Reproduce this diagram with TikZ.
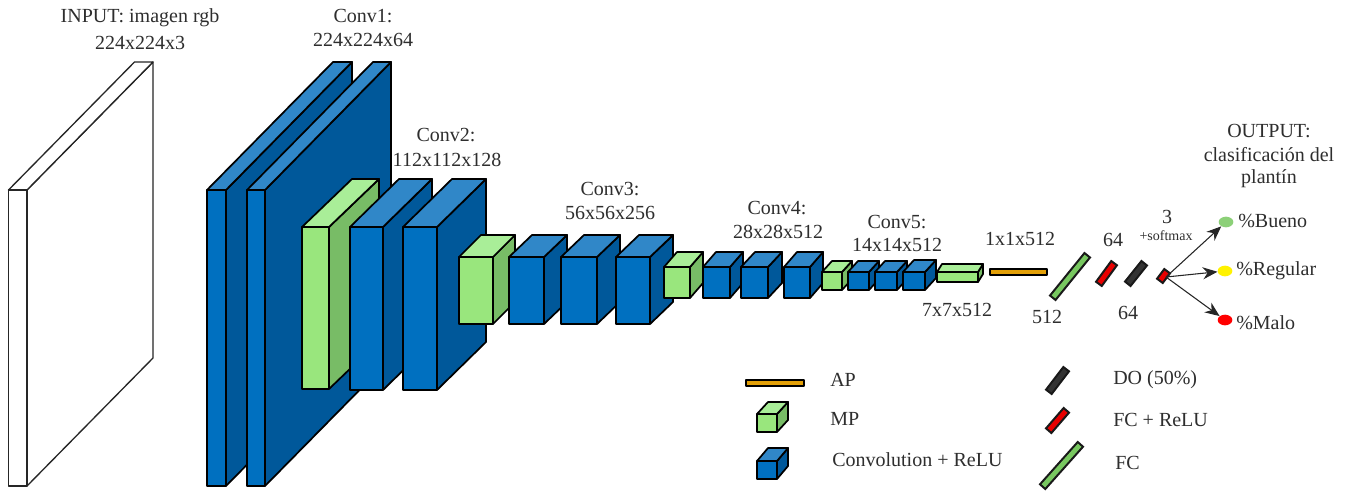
\documentclass[tikz,border=0pt]{standalone}
\usepackage{fontspec}
\setmainfont{Liberation Serif}
\usetikzlibrary{shapes.geometric,arrows.meta}
\definecolor{bfront}{HTML}{0070C0}
\definecolor{bside}{HTML}{00589A}
\definecolor{btop}{HTML}{3087C8}
\definecolor{gfront}{HTML}{99E67D}
\definecolor{gside}{HTML}{78BC66}
\definecolor{gtop}{HTML}{A9EE98}
\definecolor{apfill}{HTML}{E3A008}
\definecolor{slabgreen}{HTML}{78C860}
\definecolor{slabred}{HTML}{E80000}
\definecolor{slabblack}{HTML}{333333}
\definecolor{txt}{HTML}{2E2E2E}
\tikzset{
  lbl/.style={font=\fontsize{15}{17}\selectfont, text=txt, inner sep=0pt, anchor=center},
  lbll/.style={lbl, anchor=west},
  edge/.style={draw=black, line width=1.3pt, line join=round},
  thinedge/.style={draw=black!85, line width=1pt, line join=round},
  dot/.style={ellipse, minimum width=11pt, minimum height=8pt, inner sep=0pt},
  conn/.style={draw=black!85, line width=0.8pt, -{Stealth[length=11pt,width=9pt]}},
}
\newcommand{\cubo}[7]{% x y w h dx dy palette
  \ifnum#7=0
    \path[edge,fill=bside] (#1+#3,#2) -- ++(#5,-#6) -- ++(0,#4) -- ++(-#5,#6) -- cycle;
    \path[edge,fill=btop] (#1,#2) -- ++(#5,-#6) -- ++(#3,0) -- ++(-#5,#6) -- cycle;
    \path[edge,fill=bfront] (#1,#2) rectangle ++(#3,#4);
  \else
    \ifnum#7=1
    \path[edge,fill=gside] (#1+#3,#2) -- ++(#5,-#6) -- ++(0,#4) -- ++(-#5,#6) -- cycle;
    \path[edge,fill=gtop] (#1,#2) -- ++(#5,-#6) -- ++(#3,0) -- ++(-#5,#6) -- cycle;
    \path[edge,fill=gfront] (#1,#2) rectangle ++(#3,#4);
    \else
    \path[thinedge,fill=white] (#1+#3,#2) -- ++(#5,-#6) -- ++(0,#4) -- ++(-#5,#6) -- cycle;
    \path[thinedge,fill=white] (#1,#2) -- ++(#5,-#6) -- ++(#3,0) -- ++(-#5,#6) -- cycle;
    \path[thinedge,fill=white] (#1,#2) rectangle ++(#3,#4);
    \fi
  \fi
}
\newcommand{\slab}[5]{% x1 y1 x2 y2 colour
  \draw[black!90, line width=6.8pt, line cap=rect] (#1,#2) -- (#3,#4);
  \draw[#5, line width=3.6pt, line cap=rect] (#1,#2) -- (#3,#4);
}
\begin{document}
\begin{tikzpicture}[x=0.75pt,y=-0.75pt]
\useasboundingbox (0,0) rectangle (1352,490);
\fill[white] (0,0) rectangle (1352,490);
% input
\cubo{8.5}{190}{18.5}{296}{126}{128}{2}
% conv1
\cubo{207}{190}{19}{296}{126}{128}{0}
\cubo{247}{190}{18}{296}{126}{128}{0}
% conv2
\cubo{302}{227}{27}{162}{50}{48}{1}
\cubo{350}{227}{33}{163}{49}{48}{0}
\cubo{403}{227}{34}{163}{49}{48}{0}
% conv3
\cubo{459}{257}{34}{67}{22}{22}{1}
\cubo{509}{257}{35}{67}{23}{22}{0}
\cubo{561}{257}{36}{67}{23}{22}{0}
\cubo{616}{257}{34}{67}{23}{22}{0}
% conv4
\cubo{664}{267}{26}{31}{13}{15}{1}
\cubo{703}{267}{27}{31}{13}{15}{0}
\cubo{741}{267}{27}{31}{14}{15}{0}
\cubo{784}{267}{26}{31}{13}{15}{0}
% conv5
\cubo{822}{272}{20}{18}{10}{11}{1}
\cubo{848}{272}{21}{18}{10}{11}{0}
\cubo{875}{272}{22}{18}{10}{11}{0}
\cubo{903}{272}{22}{18}{11}{12}{0}
\cubo{937}{272}{41}{10}{5}{8}{1}
% AP
\path[draw=black,line width=1.9pt,fill=apfill,line join=round] (990,269) rectangle (1047,275);
% fc
\slab{1055}{295}{1085}{258}{slabgreen}
\slab{1101}{281}{1112}{266}{slabred}
\slab{1130}{281}{1142}{266}{slabblack}
\slab{1162}{278}{1165}{274}{slabred}
\coordinate (src) at (1166,277);
% outputs
\node[dot,fill=slabgreen!85!white] (bueno) at (1226,222) {};
\node[dot,fill=yellow] (regular) at (1225,271) {};
\node[dot,fill=red] (malo) at (1225,320) {};
\draw[conn] (src) -- (bueno);
\draw[conn] (src) -- (regular);
\draw[conn] (src) -- (malo);
% labels
\node[lbl] (t1) at (140,18) {INPUT: imagen rgb};
\node[lbl] (t2) at (140,43) {224x224x3};
\node[lbl] (t3) at (363,16) {Conv1:};
\node[lbl] (t4) at (363,40) {224x224x64};
\node[lbl] (t5) at (446,135) {Conv2:};
\node[lbl] (t6) at (447,160) {112x112x128};
\node[lbl] (t7) at (610,189) {Conv3:};
\node[lbl] (t8) at (610,213) {56x56x256};
\node[lbl] (t9) at (777,208) {Conv4:};
\node[lbl] (t10) at (778,232) {28x28x512};
\node[lbl] (t11) at (897,222) {Conv5:};
\node[lbl] (t12) at (897,245) {14x14x512};
\node[lbl] (t13) at (1020,239) {1x1x512};
\node[lbl] (t14) at (957,310) {7x7x512};
\node[lbl] (t15) at (1047,317) {512};
\node[lbl] (t16) at (1113,240) {64};
\node[lbl] (t17) at (1128,313) {64};
\node[lbl] (t18) at (1167,217) {3};
\node[lbl,font=\fontsize{10.5}{11}\selectfont] (t19) at (1166,236) {+softmax};
\node[lbl] (t20) at (1269,131) {OUTPUT:};
\node[lbl] (t21) at (1269,155) {clasificación del};
\node[lbl] (t22) at (1269,179) {plantín};
\node[lbll] (t23) at (1238,221) {\%Bueno};
\node[lbll] (t24) at (1236,271) {\%Regular};
\node[lbll] (t25) at (1236,323) {\%Malo};
% legend
\path[draw=black,line width=1.9pt,fill=apfill,line join=round] (746,380) rectangle (804,386);
\cubo{757}{414}{20}{18}{11}{12}{1}
\cubo{757}{461}{20}{18}{11}{13}{0}
\slab{1051}{389}{1064}{372}{slabblack}
\slab{1051}{428}{1064}{413}{slabred}
\slab{1045}{484}{1078}{447}{slabgreen}
\node[lbll] (l1) at (830,380) {AP};
\node[lbll] (l2) at (830,419) {MP};
\node[lbll] (l3) at (832,460) {Convolution + ReLU};
\node[lbll] (l4) at (1113,380) {DO (50\%)};
\node[lbll] (l5) at (1113,420) {FC + ReLU};
\node[lbll] (l6) at (1115,463) {FC};
\end{tikzpicture}
\end{document}
